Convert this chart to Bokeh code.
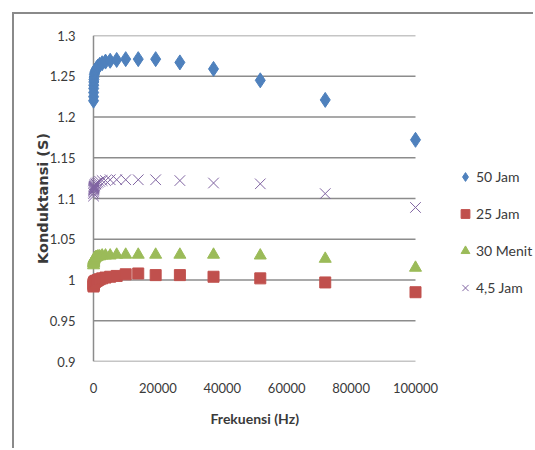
from bokeh.plotting import figure
from bokeh.models import Range1d, FixedTicker, Legend, LegendItem, Title
from bokeh.embed import file_html
from bokeh.resources import INLINE

# ---- data ----
freq = [19, 27, 37, 52, 72, 100, 139, 193, 268, 373, 518, 720, 1000, 1389, 1931,
        2683, 3728, 5179, 7197, 10000, 13895, 19307, 26827, 37276, 51795, 71969, 100000]

jam50 = [1.220, 1.225, 1.230, 1.235, 1.239, 1.243, 1.246, 1.249, 1.252, 1.254, 1.256,
         1.258, 1.260, 1.262, 1.264, 1.266, 1.268, 1.269, 1.270, 1.271, 1.271, 1.271,
         1.267, 1.259, 1.245, 1.221, 1.172]
jam25 = [0.992, 0.993, 0.994, 0.995, 0.995, 0.996, 0.996, 0.997, 0.997, 0.998, 0.998,
         0.999, 0.999, 1.000, 1.001, 1.002, 1.003, 1.004, 1.005, 1.007, 1.008, 1.006,
         1.006, 1.004, 1.002, 0.997, 0.985]
menit30 = [1.018, 1.020, 1.021, 1.022, 1.023, 1.024, 1.025, 1.025, 1.026, 1.027, 1.027,
           1.028, 1.028, 1.029, 1.029, 1.030, 1.030, 1.030, 1.031, 1.031, 1.031, 1.031,
           1.031, 1.031, 1.030, 1.026, 1.015]
jam45 = [1.103, 1.106, 1.108, 1.110, 1.111, 1.112, 1.113, 1.114, 1.115, 1.116, 1.117,
         1.118, 1.119, 1.120, 1.121, 1.122, 1.122, 1.123, 1.123, 1.123, 1.123, 1.123,
         1.122, 1.119, 1.118, 1.106, 1.089]

series_names = ["50 Jam", "25 Jam", "30 Menit", "4,5 Jam"]

x_ticks = [0, 20000, 40000, 60000, 80000, 100000]
x_tick_labels = ["0", "20000", "40000", "60000", "80000", "100000"]
y_ticks = [0.9, 0.95, 1.0, 1.05, 1.1, 1.15, 1.2, 1.25, 1.3]
y_tick_labels = ["0.9", "0.95", "1", "1.05", "1.1", "1.15", "1.2", "1.25", "1.3"]

# ---- figure ----
GRID = "#8c8c8c"
TXT = "#3a3a3a"

p = figure(width=521, height=436, output_backend="svg", toolbar_location=None,
           x_range=Range1d(-2795, 137267), y_range=Range1d(0.9, 1.3),
           min_border_left=70, min_border_top=21, min_border_right=0,
           min_border_bottom=89)
p.styles = {"margin-left": "12px", "margin-top": "12px",
            "border-left": "2px solid #8a8a8a", "border-top": "2px solid #8a8a8a"}
p.outline_line_color = None
p.xgrid.visible = False
p.ygrid.visible = False

# gridlines and vertical axis line
p.segment(x0=[x_ticks[0]] * len(y_ticks), x1=[x_ticks[-1]] * len(y_ticks),
          y0=y_ticks, y1=y_ticks, line_color=GRID, line_width=1.5, level="underlay")
p.segment(x0=[x_ticks[0]], x1=[x_ticks[0]], y0=[y_ticks[0]], y1=[y_ticks[-1]],
          line_color=GRID, line_width=1.5, level="underlay")

r50 = p.scatter(freq, jam50, marker="diamond", size=15, fill_color="#4f81bd",
                line_color="#4f81bd")
r30 = p.scatter(freq, menit30, marker="triangle", size=12, fill_color="#9bbb59",
                line_color="#9bbb59")
r25 = p.scatter(freq, jam25, marker="square", size=11, fill_color="#c0504d",
                line_color="#c0504d")
r45 = p.scatter(freq, jam45, marker="x", size=15, line_color="#8064a2", line_width=1.0)

# axes
for ax in (p.xaxis[0], p.yaxis[0]):
    ax.axis_line_color = None
    ax.major_tick_line_color = None
    ax.minor_tick_line_color = None
    ax.major_label_text_font = "Lato"
    ax.major_label_text_font_size = "13px"
    ax.major_label_text_color = TXT

p.xaxis.ticker = FixedTicker(ticks=x_ticks)
p.xaxis.major_label_overrides = dict(zip(x_ticks, x_tick_labels))
p.xaxis.major_label_standoff = 15

p.yaxis.ticker = FixedTicker(ticks=y_ticks)
p.yaxis.major_label_overrides = dict(zip(y_ticks, y_tick_labels))
p.yaxis.major_label_standoff = 3
p.yaxis.axis_label = "Konduktansi (S)"
p.yaxis.axis_label_text_font = "DejaVu Sans"
p.yaxis.axis_label_text_font_style = "bold"
p.yaxis.axis_label_text_font_size = "14.5px"
p.yaxis.axis_label_text_color = TXT
p.yaxis.axis_label_standoff = -4

xtitle = Title(text="Frekuensi (Hz)", align="left", offset=126, standoff=24,
               vertical_align="bottom",
               text_font="Lato", text_font_size="14px", text_font_style="bold",
               text_color=TXT)
p.add_layout(xtitle, "below")

legend = Legend(items=[LegendItem(label=series_names[0], renderers=[r50]),
                       LegendItem(label=series_names[1], renderers=[r25]),
                       LegendItem(label=series_names[2], renderers=[r30]),
                       LegendItem(label=series_names[3], renderers=[r45])],
                location=(370, 61), padding=0, margin=0, spacing=12,
                glyph_width=22, glyph_height=25, label_height=25,
                label_standoff=0, border_line_color=None,
                background_fill_alpha=0, label_text_font="Lato",
                label_text_font_size="14px", label_text_color=TXT)
p.add_layout(legend)

open("out.html", "w").write(file_html(p, INLINE))
